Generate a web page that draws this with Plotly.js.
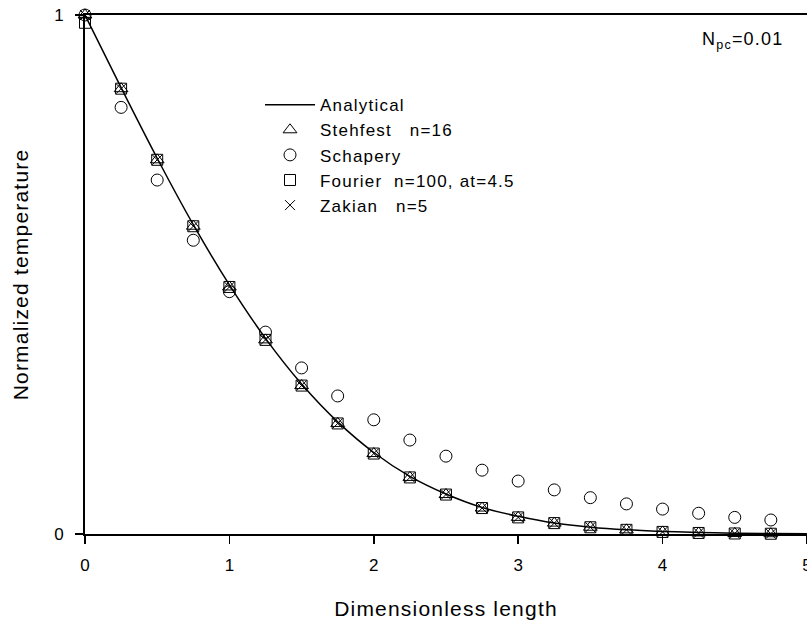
<!DOCTYPE html>
<html>
<head>
<meta charset="utf-8">
<script src="https://cdn.plot.ly/plotly-3.0.1.min.js"></script>
<style>
html, body { margin: 0; padding: 0; background: #fff; }
#chart { width: 807px; height: 621px; }
.legendtext, .xtitle, .ytitle, .annotation-text { letter-spacing: 1.2px; }
</style>
</head>
<body>
<div id="chart"></div>
<script>
// Dimensionless length sample positions
const xPoints = [0, 0.25, 0.5, 0.75, 1, 1.25, 1.5, 1.75, 2, 2.25, 2.5, 2.75, 3, 3.25, 3.5, 3.75, 4, 4.25, 4.5, 4.75];
const xLine = [0, 0.25, 0.5, 0.75, 1, 1.25, 1.5, 1.75, 2, 2.25, 2.5, 2.75, 3, 3.25, 3.5, 3.75, 4, 4.25, 4.5, 4.75, 5];

// Normalized temperature
const analytical = [1, 0.860, 0.724, 0.596, 0.480, 0.377, 0.289, 0.216, 0.157, 0.111, 0.077, 0.051, 0.034, 0.021, 0.013, 0.008, 0.005, 0.003, 0.0015, 0.0008, 0.0004];
const stehfest   = [1, 0.858, 0.721, 0.593, 0.476, 0.374, 0.286, 0.213, 0.155, 0.109, 0.076, 0.050, 0.032, 0.021, 0.013, 0.008, 0.004, 0.002, 0.001, 0.0005];
const schapery   = [1, 0.822, 0.682, 0.566, 0.467, 0.389, 0.320, 0.266, 0.220, 0.181, 0.150, 0.123, 0.102, 0.085, 0.070, 0.058, 0.048, 0.040, 0.032, 0.027];
const fourier    = [0.985, 0.858, 0.721, 0.593, 0.476, 0.374, 0.286, 0.213, 0.155, 0.109, 0.076, 0.050, 0.032, 0.021, 0.013, 0.008, 0.004, 0.002, 0.001, 0.0005];
const zakian     = [1, 0.858, 0.721, 0.593, 0.476, 0.374, 0.286, 0.213, 0.155, 0.109, 0.076, 0.050, 0.032, 0.021, 0.013, 0.008, 0.004, 0.002, 0.001, 0.0005];

const seriesNames = ['Analytical', 'Stehfest   n=16', 'Schapery', 'Fourier  n=100, at=4.5', 'Zakian   n=5'];
const xTicks = [0, 1, 2, 3, 4, 5];
const yTicks = [0, 1];

const FONT = 'Liberation Sans, Arial, sans-serif';

function markerTrace(name, y, symbol, size) {
  return {
    x: xPoints, y: y, name: name, type: 'scatter', mode: 'markers',
    marker: { symbol: symbol, size: size, color: '#000', line: { color: '#000', width: 1 } },
    cliponaxis: false
  };
}

const traces = [
  { x: xLine, y: analytical, name: seriesNames[0], type: 'scatter', mode: 'lines',
    line: { color: '#000', width: 1.5, shape: 'spline' } },
  markerTrace(seriesNames[1], stehfest, 'triangle-up-open', 12),
  markerTrace(seriesNames[2], schapery, 'circle-open', 12),
  markerTrace(seriesNames[3], fourier, 'square-open', 11),
  markerTrace(seriesNames[4], zakian, 'x-thin-open', 10)
];

const layout = {
  width: 807, height: 621,
  margin: { l: 85, r: 0, t: 15, b: 87 },
  paper_bgcolor: '#fff', plot_bgcolor: '#fff',
  font: { family: FONT, size: 17, color: '#000' },
  showlegend: true,
  legend: {
    x: 0.2424, y: 0.861, xanchor: 'left', yanchor: 'top',
    bgcolor: 'rgba(0,0,0,0)', borderwidth: 0,
    font: { family: FONT, size: 17, color: '#000' },
    itemwidth: 50, tracegroupgap: 0
  },
  xaxis: {
    range: [0, 5.0005], tickvals: xTicks, ticktext: xTicks.map(String),
    ticks: 'outside', ticklen: 8, tickwidth: 1.5, tickcolor: '#000',
    showline: true, linecolor: '#000', linewidth: 2, mirror: true,
    showgrid: false, zeroline: false, ticklabelstandoff: 7,
    ticklabeloverflow: 'allow',
    tickfont: { family: FONT, size: 17 },
    title: { text: 'Dimensionless length', font: { family: FONT, size: 21 }, standoff: 27 }
  },
  yaxis: {
    range: [0, 1], tickvals: yTicks, ticktext: yTicks.map(String),
    ticks: 'outside', ticklen: 8, tickwidth: 1.5, tickcolor: '#000',
    showline: true, linecolor: '#000', linewidth: 2, mirror: false,
    showgrid: false, zeroline: false, ticklabelstandoff: 8,
    tickfont: { family: FONT, size: 17 },
    title: { text: 'Normalized temperature', font: { family: FONT, size: 21 }, standoff: 20 }
  },
  annotations: [{
    xref: 'paper', yref: 'paper', x: 0.852, y: 0.95, xanchor: 'left', yanchor: 'middle',
    text: 'N<sub>pc</sub>=0.01', showarrow: false, font: { family: FONT, size: 18, color: '#000' }
  }]
};

Plotly.newPlot('chart', traces, layout, { displayModeBar: false, staticPlot: true });
</script>
</body>
</html>
